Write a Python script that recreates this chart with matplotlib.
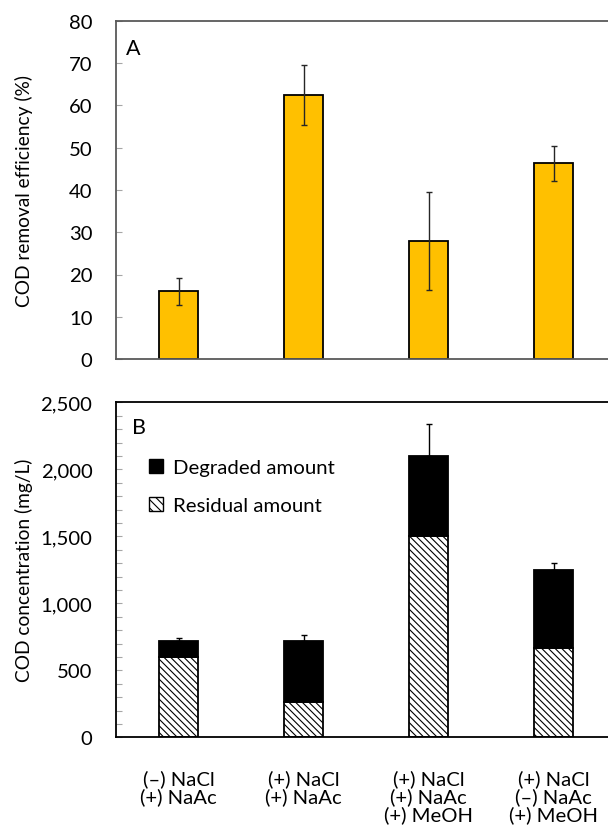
import matplotlib
matplotlib.use("Agg")
import matplotlib.pyplot as plt
from matplotlib.patches import Patch
from matplotlib.ticker import MultipleLocator, StrMethodFormatter

plt.rcParams['font.family'] = ['Lato', 'DejaVu Sans']
plt.rcParams['font.size'] = 15
plt.rcParams['hatch.linewidth'] = 0.8

# treatments (x tick labels)
conditions = ['(–) NaCl\n(+) NaAc', '(+) NaCl\n(+) NaAc',
              '(+) NaCl\n(+) NaAc\n(+) MeOH', '(+) NaCl\n(–) NaAc\n(+) MeOH']

# panel A: COD removal efficiency (%)
removal = [16.0, 62.6, 27.9, 46.3]
removal_err = [3.2, 7.1, 11.6, 4.1]

# panel B: COD concentration (mg/L)
residual = [597, 266, 1504, 664]
total = [716, 716, 2101, 1248]
total_err = [25, 50, 239, 50]
degraded = [t - r for t, r in zip(total, residual)]

x = list(range(len(conditions)))
w = 0.31
gold = '#FFC000'
spine_grey = '#595959'
tick_grey = '#a6a6a6'

fig = plt.figure(figsize=(6.08, 8.28), dpi=100)
axA = fig.add_axes([116/608, 1 - 360/828, 500/608, 338/828])
axB = fig.add_axes([116/608, 1 - 738.3/828, 500/608, 335/828])

# --- A ---
axA.bar(x, removal, w, color=gold, edgecolor='black', linewidth=1.3, zorder=2)
axA.errorbar(x, removal, yerr=removal_err, fmt='none', ecolor='#262626',
             elinewidth=1.0, capsize=2.2, capthick=1.0, zorder=3)
axA.set_ylim(0, 80)
axA.set_xlim(-0.5, 3.5)
axA.yaxis.set_major_locator(MultipleLocator(10))
axA.set_xticks([])
axA.set_ylabel('COD removal efficiency (%)', fontsize=13.8)
axA.yaxis.set_label_coords(-0.166, 0.5)
axA.text(0.02, 0.95, 'A', transform=axA.transAxes, fontsize=15.5, va='top')
for s in axA.spines.values():
    s.set_color(spine_grey)
    s.set_linewidth(1.3)
axA.tick_params(axis='y', direction='in', length=4, width=0.8,
                color=tick_grey, pad=17, labelsize=14.6)

# --- B ---
axB.bar(x, residual, w, color='white', edgecolor='black', hatch='\\\\\\\\\\',
        linewidth=1.3, zorder=2)
axB.bar(x, degraded, w, bottom=residual, color='black', edgecolor='black',
        linewidth=1.3, zorder=2)
axB.errorbar(x, total, yerr=[[0]*len(total), total_err], fmt='none',
             ecolor='black', elinewidth=1.0, capsize=2.2, capthick=1.0, zorder=3)
axB.set_ylim(0, 2500)
axB.set_xlim(-0.5, 3.5)
axB.yaxis.set_major_locator(MultipleLocator(500))
axB.yaxis.set_minor_locator(MultipleLocator(100))
axB.yaxis.set_major_formatter(StrMethodFormatter('{x:,.0f}'))
axB.set_xticks(x)
axB.set_xticklabels(conditions, fontsize=14.6, va='top', linespacing=1.0)
axB.tick_params(axis='x', length=0, pad=23)
axB.tick_params(axis='y', which='both', direction='in', length=4, width=0.8,
                color=tick_grey, pad=17, labelsize=14.6)
axB.set_ylabel('COD concentration (mg/L)', fontsize=13.8)
axB.yaxis.set_label_coords(-0.166, 0.5)
axB.text(0.032, 0.955, 'B', transform=axB.transAxes, fontsize=15.5, va='top')
for s in axB.spines.values():
    s.set_color('black')
    s.set_linewidth(1.3)

handles = [Patch(facecolor='black', edgecolor='black', label='Degraded amount'),
           Patch(facecolor='white', edgecolor='black', hatch='\\\\\\\\',
                 label='Residual amount')]
axB.legend(handles=handles, loc='upper left', bbox_to_anchor=(0.05, 0.855),
           frameon=False, fontsize=14.7, handlelength=0.7, handleheight=0.7,
           handletextpad=0.45, labelspacing=1.0, borderaxespad=0)

fig.savefig('out.png', dpi=100)
